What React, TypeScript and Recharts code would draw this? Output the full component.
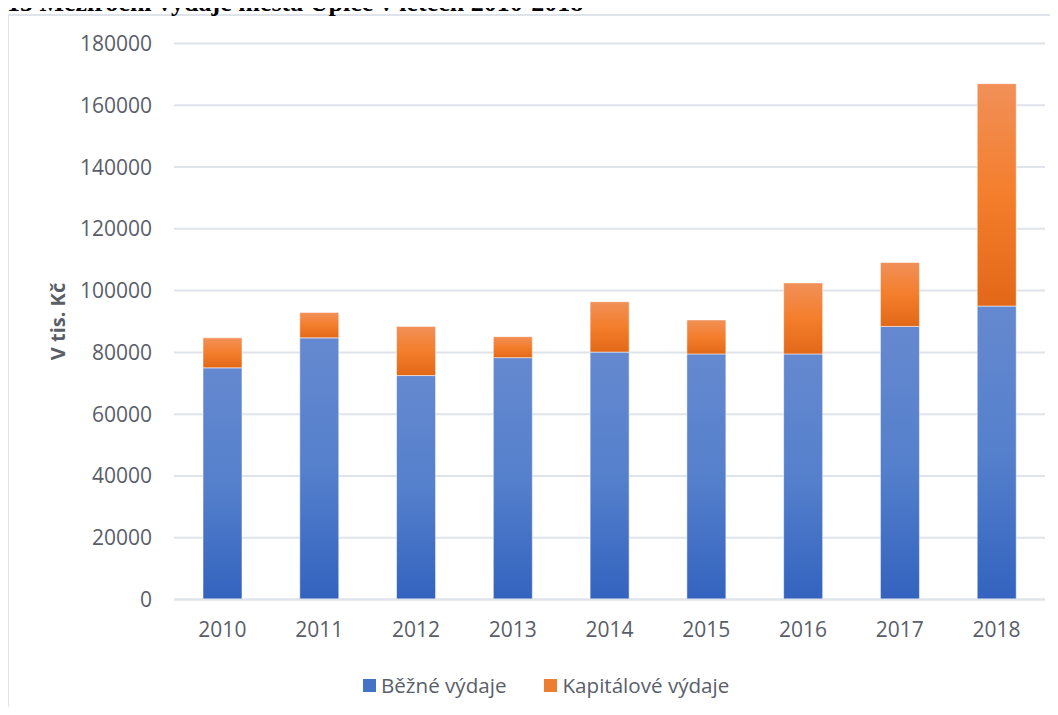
import { BarChart, Bar, XAxis, YAxis, CartesianGrid, Legend, Cell } from 'recharts'

const YEARS = ['2010', '2011', '2012', '2013', '2014', '2015', '2016', '2017', '2018']
const BEZNE = [75000, 84700, 72500, 78300, 80100, 79500, 79500, 88400, 95000]
const KAPITALOVE = [9700, 8200, 15900, 6800, 16300, 11000, 23000, 20700, 72000]
const Y_TICKS = [0, 20000, 40000, 60000, 80000, 100000, 120000, 140000, 160000, 180000]

const data = YEARS.map((year, i) => ({ year, bezne: BEZNE[i], kapitalove: KAPITALOVE[i] }))

const TEXT = '#595e68'
const GRID = '#dfe3ea'
const FONT = '"Open Sans", "Noto Sans", sans-serif'

const YLabel = () => (
    <text
        x={65}
        y={321.5}
        transform="rotate(-90, 65, 321.5)"
        textAnchor="middle"
        fill={TEXT}
        fontFamily={FONT}
        fontSize={20}
        fontWeight={700}
    >
        V tis. Kč
    </text>
)

const LegendContent = ({ payload }: any) => (
    <div style={{ display: 'flex', alignItems: 'center', height: 30, marginLeft: 363, fontFamily: FONT, fontSize: 20.6, color: TEXT }}>
        {(payload || []).map((entry: any, i: number) => (
            <div key={`leg-${i}`} style={{ display: 'flex', alignItems: 'center', marginRight: 38 }}>
                <span style={{ display: 'inline-block', width: 13, height: 13, background: i === 0 ? '#4472c4' : '#ed7d31', marginRight: 5 }} />
                <span>{entry.value}</span>
            </div>
        ))}
    </div>
)

export default function App() {
    return (
        <div style={{ position: 'relative', width: 1058, height: 715, margin: -8, overflow: 'hidden', background: '#fff' }}>
            <div style={{ position: 'absolute', left: 7, top: 13.5, width: 1200, height: 800, border: `2px solid ${GRID}`, background: '#fff' }} />
            <div style={{ position: 'absolute', left: 0, top: 0 }}>
                <BarChart width={1058} height={715} data={data} margin={{ top: 43.5, right: 13, bottom: 0, left: 0 }} barSize={39}>
                    <defs>
                        <linearGradient id="gBlue" x1="0" y1="0" x2="0" y2="1">
                            <stop offset="0%" stopColor="#6589d0" />
                            <stop offset="50%" stopColor="#5580cc" />
                            <stop offset="100%" stopColor="#3363bf" />
                        </linearGradient>
                        <linearGradient id="gOrange" x1="0" y1="0" x2="0" y2="1">
                            <stop offset="0%" stopColor="#f19058" />
                            <stop offset="50%" stopColor="#f47e2c" />
                            <stop offset="100%" stopColor="#e26818" />
                        </linearGradient>
                    </defs>
                    <CartesianGrid vertical={false} stroke={GRID} strokeWidth={2} />
                    <XAxis
                        dataKey="year"
                        height={85.5}
                        tickLine={false}
                        tickSize={0}
                        tickMargin={23}
                        axisLine={{ stroke: GRID, strokeWidth: 2 }}
                        tick={{ fill: TEXT, fontFamily: FONT, fontSize: 21 }}
                    />
                    <YAxis
                        width={174}
                        domain={[0, 180000]}
                        ticks={Y_TICKS}
                        interval={0}
                        tickLine={false}
                        axisLine={false}
                        tickSize={0}
                        tickMargin={22}
                        tick={{ fill: TEXT, fontFamily: FONT, fontSize: 21 }}
                        label={<YLabel />}
                    />
                    <Legend
                        verticalAlign="bottom"
                        align="left"
                        height={30}
                        wrapperStyle={{ bottom: 15, left: 0, width: 1058 }}
                        content={<LegendContent />}
                    />
                    <Bar dataKey="bezne" name="Běžné výdaje" stackId="a" fill="url(#gBlue)" stroke="#ffffff" strokeOpacity={0.5} strokeWidth={1} isAnimationActive={false}>
                        {data.map((_, i) => <Cell key={`b-${i}`} fill="url(#gBlue)" />)}
                    </Bar>
                    <Bar dataKey="kapitalove" name="Kapitálové výdaje" stackId="a" fill="url(#gOrange)" stroke="#ffffff" strokeOpacity={0.5} strokeWidth={1} isAnimationActive={false}>
                        {data.map((_, i) => <Cell key={`k-${i}`} fill="url(#gOrange)" />)}
                    </Bar>
                </BarChart>
            </div>
            <div style={{ position: 'absolute', left: -53, top: -10, fontFamily: '"Liberation Serif", "Times New Roman", serif', fontWeight: 700, fontSize: 26, lineHeight: '26px', whiteSpace: 'nowrap', color: '#000' }}>
                Graf 15 Meziroční výdaje města Úpice v letech 2010-2018
            </div>
        </div>
    )
}
